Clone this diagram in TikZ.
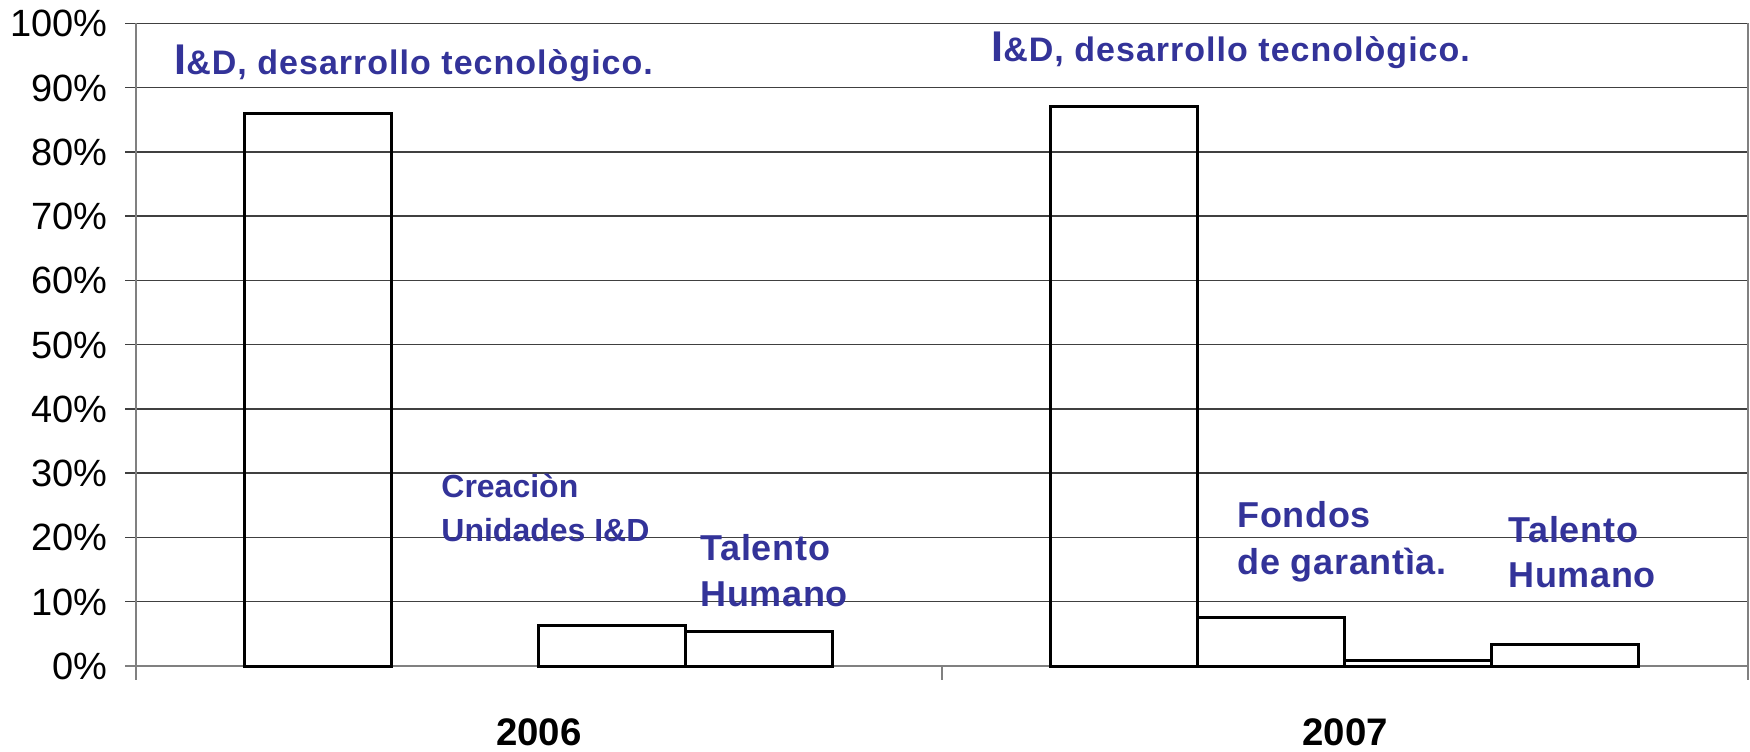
\documentclass[tikz,border=0pt]{standalone}
\usepackage{fontspec}
\setmainfont{Liberation Sans}
\newfontfamily\idfont[LetterSpace=3]{Liberation Sans}
\newfontfamily\tfont[LetterSpace=2]{Liberation Sans}
\definecolor{lblue}{RGB}{51,51,153}
\begin{document}
\begin{tikzpicture}[x=0.5pt,y=-0.5pt,
  grid/.style={black!75,line width=0.75pt},
  axisline/.style={black!50,line width=1pt},
  barbox/.style={draw=black,line width=1.5pt},
  ylab/.style={anchor=base east,inner sep=0pt,font=\fontsize{19}{20}\selectfont},
  yearlab/.style={anchor=base,inner sep=0pt,font=\bfseries\fontsize{19.2}{20}\selectfont},
  lab/.style={anchor=base west,inner sep=0pt,text=lblue},
  idlab/.style={lab,font=\idfont\bfseries\fontsize{17}{19}\selectfont},
  smlab/.style={lab,font=\bfseries\fontsize{16}{18}\selectfont},
  tlab/.style={lab,font=\tfont\bfseries\fontsize{18}{20}\selectfont}]
\useasboundingbox (0,0) rectangle (1750,751);
% gridlines
\foreach \p in {10,20,...,100}
  \draw[grid] (125,{666-6.427*\p}) -- (1747.7,{666-6.427*\p});
% axes
\draw[axisline] (125,666) -- (1747.7,666);
\draw[axisline] (135.7,23.3) -- (135.7,680);
\draw[axisline] (1747.7,23.3) -- (1747.7,680);
\draw[axisline] (941.7,666) -- (941.7,680);
% y labels
\foreach \p in {0,10,...,100}
  \node[ylab] (y\p) at (108,{666-6.427*\p+13.5}) {\p\%};
% bars 2006
\draw[barbox] (244.7,666) rectangle (391.7,113.3);
\draw[barbox] (538.7,666) rectangle (685.7,625.5);
\draw[barbox] (685.7,666) rectangle (832.7,631.9);
% bars 2007
\draw[barbox] (1050.2,666) rectangle (1197.2,106.9);
\draw[barbox] (1197.2,666) rectangle (1344.2,617.2);
\draw[barbox] (1344.2,666) rectangle (1491.2,660.9);
\draw[barbox] (1491.2,666) rectangle (1638.2,644.1);
% category labels
\node[yearlab] (c2006) at (539,745) {2006};
\node[yearlab] (c2007) at (1345,745) {2007};
% series labels
\node[idlab] (idA) at (174,74) {{\fontsize{21.5}{22}\selectfont I}\&D, desarrollo tecnològico.};
\node[idlab] (idB) at (991,61) {{\fontsize{21.5}{22}\selectfont I}\&D, desarrollo tecnològico.};
\node[smlab] (crA) at (441,497) {Creaciòn};
\node[smlab] (crB) at (441,541) {Unidades I\&D};
\node[tlab] (taA) at (700,560) {Talento};
\node[tlab] (huA) at (700,606) {Humano};
\node[tlab] (foA) at (1237,527) {Fondos};
\node[tlab] (foB) at (1237,574) {de garantìa.};
\node[tlab] (taB) at (1508,542) {Talento};
\node[tlab] (huB) at (1508,587) {Humano};
\end{tikzpicture}
\end{document}
